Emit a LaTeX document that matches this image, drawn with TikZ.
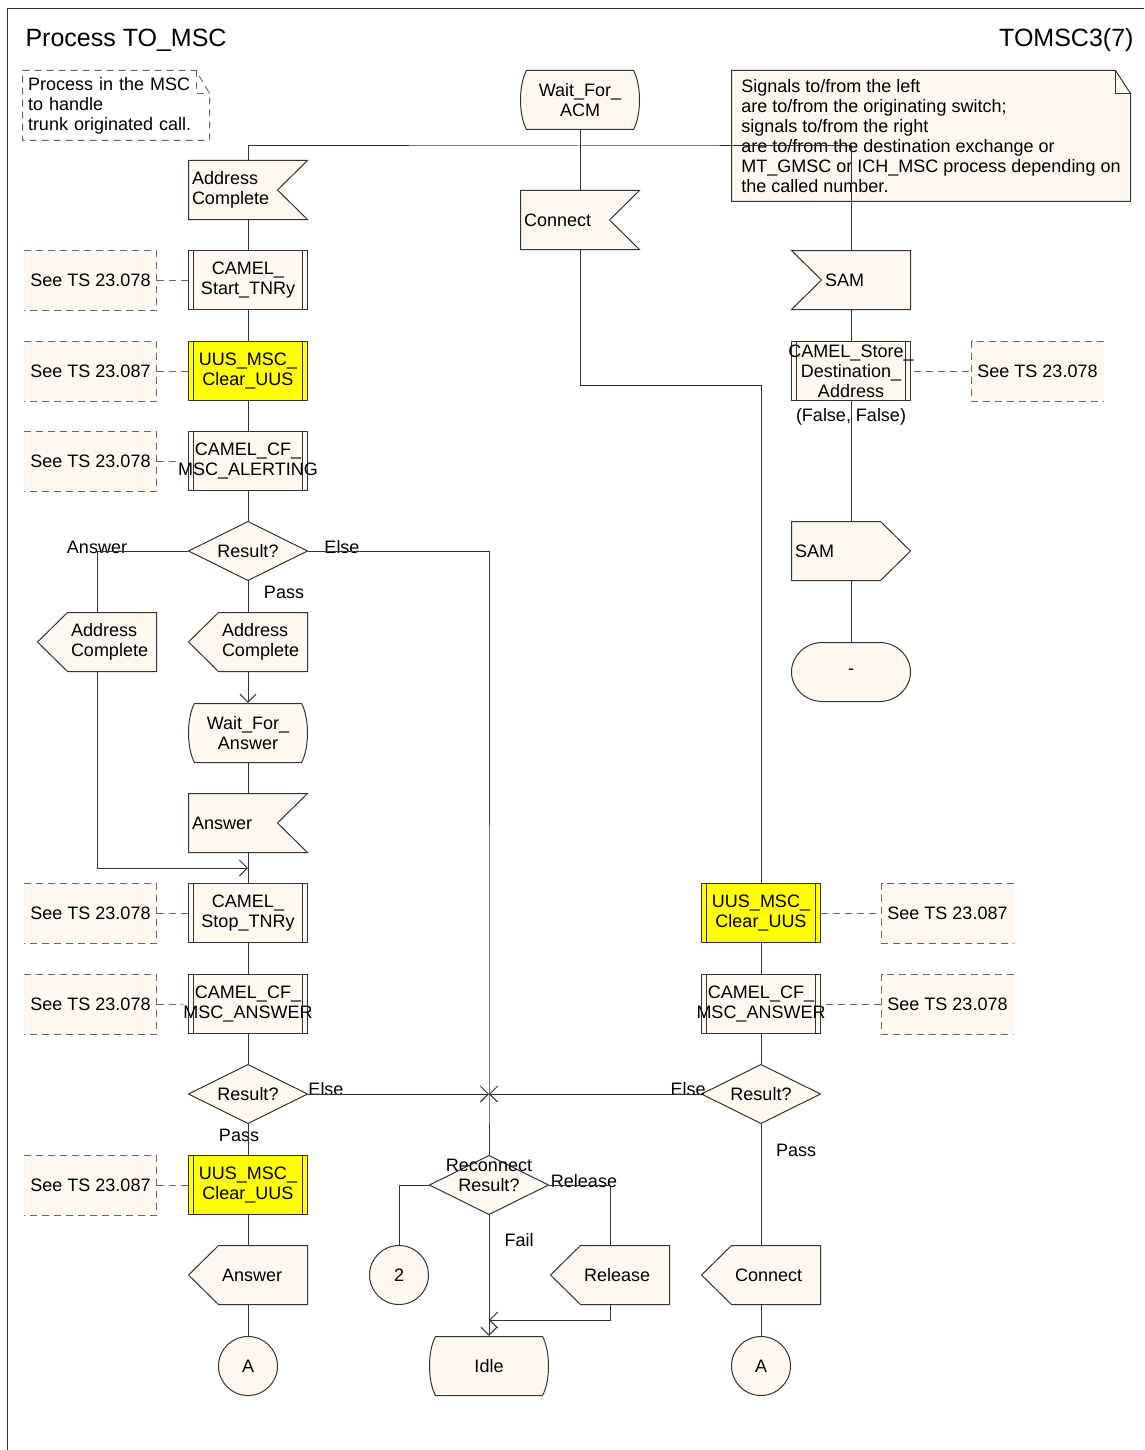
\documentclass[tikz,border=0pt]{standalone}
\usepackage{fontspec}
\setmainfont{Liberation Sans}
\usetikzlibrary{arrows.meta,positioning,backgrounds}
\definecolor{sdlfill}{HTML}{FFF8F0}
\definecolor{uusyellow}{HTML}{FFFF00}
\definecolor{sdlline}{HTML}{333333}
\definecolor{cmtgrey}{HTML}{666666}
\hyphenpenalty=10000
\exhyphenpenalty=10000
\newcommand\sdlfont{\fontsize{18}{20}\selectfont}
\newcommand\titlefont{\fontsize{25}{30}\selectfont}
\tikzset{
  con/.style={draw=sdlline, line width=1pt},
  arr/.style={con, -{Straight Barb[length=8pt, width=16pt]}},
  cmtline/.style={draw=cmtgrey, line width=1pt, dash pattern=on 7pt off 5pt},
  shp/.style={con, fill=#1},
  shp/.default=sdlfill,
  % node boxes (text and anchors only)
  sdl/.style={minimum width=120pt, minimum height=60pt, inner sep=0pt, font=\sdlfont},
  inbox/.style={sdl, text width=112pt, align=left},
  inlbox/.style={sdl, text width=52pt, align=left},
  outbox/.style={sdl, text width=52pt, align=left},
  outrbox/.style={sdl, text width=112pt, align=left},
  procbox/.style={sdl, align=center},
  decbox/.style={sdl, align=center},
  statebox/.style={sdl, align=center},
  conbox/.style={minimum size=60pt, inner sep=0pt, font=\sdlfont},
  cmtbox/.style={minimum width=133pt, minimum height=61pt, inner sep=0pt, font=\sdlfont},
  notebox/.style={minimum width=400pt, minimum height=132pt, inner sep=0pt, font=\sdlfont, align=left},
  textnote/.style={minimum width=188pt, minimum height=71pt, inner sep=0pt, text width=176pt, font=\sdlfont, align=left},
  lbl/.style={font=\sdlfont, inner sep=0pt},
  % SDL symbols
  inshape/.pic={\filldraw[shp] (-59.5,-29.5) -- (59.5,-29.5) -- (29.5,0) -- (59.5,29.5) -- (-59.5,29.5) -- cycle;},
  inlshape/.pic={\filldraw[shp] (-59.5,-29.5) -- (59.5,-29.5) -- (59.5,29.5) -- (-59.5,29.5) -- (-29.5,0) -- cycle;},
  outshape/.pic={\filldraw[shp] (-59.5,0) -- (-29.5,-29.5) -- (59.5,-29.5) -- (59.5,29.5) -- (-29.5,29.5) -- cycle;},
  outrshape/.pic={\filldraw[shp] (-59.5,-29.5) -- (29.5,-29.5) -- (59.5,0) -- (29.5,29.5) -- (-59.5,29.5) -- cycle;},
  procshape/.pic={\filldraw[shp=#1] (-59.5,-29.5) rectangle (59.5,29.5);
    \draw[con] (-54.5,-29.5) -- (-54.5,29.5) (54.5,-29.5) -- (54.5,29.5);},
  decshape/.pic={\filldraw[shp] (-59.5,0) -- (0,-29.5) -- (59.5,0) -- (0,29.5) -- cycle;},
  stateshape/.pic={\filldraw[shp] (-53.5,-29.5) -- (53.5,-29.5) .. controls (61.5,-15) and (61.5,15) .. (53.5,29.5)
    -- (-53.5,29.5) .. controls (-61.5,15) and (-61.5,-15) .. (-53.5,-29.5) -- cycle;},
  roundshape/.pic={\filldraw[shp] (-28.5,-29.5) -- (28.5,-29.5) arc[start angle=90, end angle=-90, x radius=31pt, y radius=29.5pt]
    -- (-28.5,29.5) arc[start angle=270, end angle=90, x radius=31pt, y radius=29.5pt] -- cycle;},
  conshape/.pic={\filldraw[shp] (0,0) circle[radius=29.5pt];},
  cmtlshape/.pic={\fill[sdlfill] (-66.5,-30.5) rectangle (66.5,30.5);
    \draw[cmtline] (-66.5,-30) -- (66,-30) -- (66,30) -- (-66.5,30);},
  cmtrshape/.pic={\fill[sdlfill] (-66.5,-30.5) rectangle (66.5,30.5);
    \draw[cmtline] (66.5,-30) -- (-66,-30) -- (-66,30) -- (66.5,30);},
  noteshape/.pic={\filldraw[shp] (-199.5,-65.5) -- (184.5,-65.5) -- (199.5,-42.5) -- (199.5,65.5) -- (-199.5,65.5) -- cycle;
    \draw[con] (184.5,-65.5) -- (184.5,-42.5) -- (199.5,-42.5);},
  remarkshape/.pic={\draw[cmtline] (-93.5,-35) -- (80,-35) -- (93.5,-12) -- (93.5,35) -- (-93.5,35) -- cycle;
    \draw[cmtline] (80,-35) -- (80,-12) -- (93.5,-12);}
}
\begin{document}
\begin{tikzpicture}[x=1pt, y=-1pt]
\useasboundingbox (0,0) rectangle (1144,1450);
% frame and headings
\draw[con] (7,1450) -- (7,9) -- (1144,9);
\node[font=\titlefont, anchor=west] (title) at (22,40) {Process TO\_MSC};
\node[font=\titlefont, anchor=east] (page) at (1137,40) {TOMSC3(7)};
\node[textnote] (remark) at (116,105.5) {Process in the MSC\\to handle\\trunk originated call.};
\node[notebox] (sides) at (931,136) {Signals to/from the left\\are to/from the originating switch;\\signals to/from the right\\are to/from the destination exchange or\\MT\_GMSC or ICH\_MSC process depending on\\the called number.};

% left column
\node[inbox] (adc1) at (248,190) {Address\\Complete};
\node[procbox] (tnry) at (248,280) {CAMEL\_\\Start\_TNRy};
\node[procbox] (uus1) at (248,371) {UUS\_MSC\_\\Clear\_UUS};
\node[procbox] (alert) at (248,461) {CAMEL\_CF\_\\MSC\_ALERTING};
\node[decbox] (res1) at (248,551) {Result?};
\node[outbox] (ado1) at (97,642) {Address\\Complete};
\node[outbox] (ado2) at (248,642) {Address\\Complete};
\node[statebox] (wfa) at (248,733) {Wait\_For\_\\Answer};
\node[inbox] (ans) at (248,823) {Answer};
\node[procbox] (stop) at (248,913) {CAMEL\_\\Stop\_TNRy};
\node[procbox] (cfans1) at (248,1004) {CAMEL\_CF\_\\MSC\_ANSWER};
\node[decbox] (res2) at (248,1094) {Result?};
\node[procbox] (uus2) at (248,1185) {UUS\_MSC\_\\Clear\_UUS};
\node[outbox] (anso) at (248,1275) {Answer};
\node[conbox] (conA1) at (248,1366) {A};

\node[cmtbox] (c1) at (90.5,280) {See TS 23.078};
\node[cmtbox] (c2) at (90.5,371) {See TS 23.087};
\node[cmtbox] (c3) at (90.5,461) {See TS 23.078};
\node[cmtbox] (c4) at (90.5,913) {See TS 23.078};
\node[cmtbox] (c5) at (90.5,1004) {See TS 23.078};
\node[cmtbox] (c6) at (90.5,1185) {See TS 23.087};

% middle column
\node[statebox] (wacm) at (580,100) {Wait\_For\_\\ACM};
\node[inbox] (conin) at (580,220) {Connect};
\node[decbox] (rec) at (489,1185) {Reconnect\\Result?\\ \mbox{}};
\node[conbox] (con2) at (399,1275) {2};
\node[outbox] (relo) at (610,1275) {Release};
\node[statebox] (idle) at (489,1366) {Idle};

% right column
\node[inlbox] (sam) at (851,280) {SAM};
\node[procbox] (store) at (851,371) {CAMEL\_Store\_\\Destination\_\\Address};
\node[lbl] (storepar) [below=7pt of store] {(False, False)};
\node[outrbox] (samo) at (851,551) {SAM};
\node[statebox] (dash) at (851,672) {-};
\node[procbox] (uus3) at (761,913) {UUS\_MSC\_\\Clear\_UUS};
\node[procbox] (cfans2) at (761,1004) {CAMEL\_CF\_\\MSC\_ANSWER};
\node[decbox] (res3) at (761,1094) {Result?};
\node[outbox] (conno) at (761,1275) {Connect};
\node[conbox] (conA2) at (761,1366) {A};

\node[cmtbox] (c7) at (1037.5,371) {See TS 23.078};
\node[cmtbox] (c8) at (947.5,913) {See TS 23.087};
\node[cmtbox] (c9) at (947.5,1004) {See TS 23.078};

% branch labels
\node[lbl] (lAns) at (97,547) {Answer};
\node[lbl] (lElse1) at (342,547) {Else};
\node[lbl] (lPass1) at (284,592) {Pass};
\node[lbl] (lElse2) at (326,1089) {Else};
\node[lbl] (lPass2) at (239,1135) {Pass};
\node[lbl] (lElse3) at (688,1089) {Else};
\node[lbl] (lPass3) at (796,1150) {Pass};
\node[lbl] (lRel) at (584,1181) {Release};
\node[lbl] (lFail) at (519,1240) {Fail};

% symbols behind the texts
\begin{scope}[on background layer]
  \pic at (remark) {remarkshape};
  \pic at (sides) {noteshape};
  \foreach \n in {adc1,ans,conin} \pic at (\n) {inshape};
  \foreach \n in {ado1,ado2,anso,relo,conno} \pic at (\n) {outshape};
  \foreach \n in {tnry,alert,stop,cfans1,store,cfans2} \pic at (\n) {procshape=sdlfill};
  \foreach \n in {uus1,uus2,uus3} \pic at (\n) {procshape=uusyellow};
  \foreach \n in {res1,res2,res3,rec} \pic at (\n) {decshape};
  \foreach \n in {wacm,wfa,idle} \pic at (\n) {stateshape};
  \foreach \n in {conA1,conA2,con2} \pic at (\n) {conshape};
  \foreach \n in {c1,c2,c3,c4,c5,c6} \pic at (\n) {cmtlshape};
  \foreach \n in {c7,c8,c9} \pic at (\n) {cmtrshape};
  \pic at (sam) {inlshape};
  \pic at (samo) {outrshape};
  \pic at (dash) {roundshape};
\end{scope}

% junction points
\coordinate (top) at (580,146);
\coordinate (cbend) at (761,385);
\coordinate (mrg) at (248,868);
\coordinate (jn) at (489,1094);
\coordinate (mrg2) at (489,1320);

% flow lines
\draw[con] (wacm.south) -- (conin.north);
\draw[con] (adc1.north) |- (top) -| (sam.north);
\draw[con] (adc1) -- (tnry) -- (uus1) -- (alert) -- (res1);
\draw[con] (res1.west) -| (ado1.north);
\draw[con] (res1.south) -- (ado2.north);
\draw[arr] (ado2.south) -- (wfa.north);
\draw[con] (wfa.south) -- (ans.north);
\draw[con] (ans.south) -- (stop.north);
\draw[arr] (ado1.south) |- (mrg);
\draw[con] (stop) -- (cfans1) -- (res2);
\draw[con] (res2.south) -- (uus2.north);
\draw[con] (uus2) -- (anso) -- (conA1);
\draw[con] (res1.east) -| (jn) -- (rec.north);
\draw[arr] (res2.east) -- (jn);
\draw[arr] (res3.west) -- (jn);
\draw[con] (rec.west) -| (con2.north);
\draw[con] (rec.east) -| (relo.north);
\draw[arr] (rec.south) -- (idle.north);
\draw[arr] (relo.south) |- (mrg2);
\draw[con] (conin.south) |- (cbend) -- (uus3.north);
\draw[con] (uus3) -- (cfans2) -- (res3);
\draw[con] (res3.south) -- (conno.north);
\draw[con] (conno) -- (conA2);
\draw[con] (sam.south) -- (store.north);
\draw[con] (store.south) -- (samo.north);
\draw[con] (samo.south) -- (dash.north);

% comment links
\draw[cmtline] (c1.east) -- (tnry.west);
\draw[cmtline] (c2.east) -- (uus1.west);
\draw[cmtline] (c3.east) -- (alert.west);
\draw[cmtline] (c4.east) -- (stop.west);
\draw[cmtline] (c5.east) -- (cfans1.west);
\draw[cmtline] (c6.east) -- (uus2.west);
\draw[cmtline] (store.east) -- (c7.west);
\draw[cmtline] (uus3.east) -- (c8.west);
\draw[cmtline] (cfans2.east) -- (c9.west);
\end{tikzpicture}
\end{document}
